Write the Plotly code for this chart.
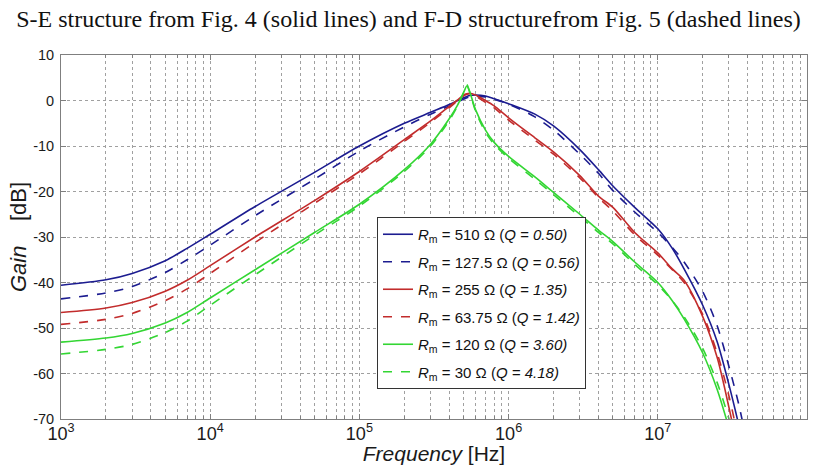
import plotly.graph_objects as go

# Frequency points (Hz)
FREQ = [1e3, 2e3, 3e3, 5e3, 7e3, 1e4, 2e4, 5e4, 1e5, 2e5, 3e5, 4e5, 4.5e5, 5e5, 5.25e5,
        5.5e5, 6e5, 7e5, 8e5, 1e6, 1.5e6, 2e6, 3e6, 4e6, 5e6, 7e6, 1e7, 1.25e7, 1.5e7,
        2e7, 2.5e7, 3e7, 3.5e7, 4e7]

# Gain (dB)
BLUE_SOLID = [-40.6, -39.4, -38.0, -35.2, -32.5, -29.4, -23.3, -15.8, -10.0, -5.0, -2.6, -0.9, -0.1,
              0.6, 0.9, 1.1, 1.2, 1.0, 0.4, -0.7, -3.0, -5.6, -10.8, -15.2, -18.8, -23.5, -28.2,
              -32.5, -37.0, -45.0, -53.0, -62.5, -71.5, -80.0]
BLUE_DASH = [-43.6, -42.3, -40.9, -37.8, -35.0, -31.8, -25.3, -17.3, -11.1, -5.8, -3.0, -1.2, -0.4,
             0.3, 0.6, 0.8, 0.9, 0.8, 0.3, -0.8, -3.6, -6.5, -11.8, -16.0, -19.8, -24.5, -29.0,
             -32.3, -35.5, -42.0, -49.5, -58.5, -67.0, -76.0]
RED_SOLID = [-46.6, -45.6, -44.4, -41.9, -39.5, -36.3, -30.0, -22.0, -15.6, -8.6, -4.5, -1.3, 0.0,
             1.2, 1.5, 1.6, 1.2, 0.0, -1.2, -3.8, -8.2, -11.3, -16.5, -21.0, -23.5, -29.0, -33.5,
             -37.0, -39.5, -47.5, -56.5, -67.5, -78.0, -88.0]
RED_DASH = [-49.2, -48.1, -46.8, -44.0, -41.4, -38.0, -31.2, -22.6, -16.1, -9.0, -4.8, -1.6, -0.2,
            1.0, 1.4, 1.5, 1.0, -0.4, -1.6, -4.3, -8.7, -11.8, -17.0, -21.3, -24.3, -29.5, -34.0,
            -37.2, -40.0, -47.0, -55.5, -65.0, -75.0, -85.0]
GREEN_SOLID = [-53.1, -52.2, -51.2, -48.9, -46.6, -43.4, -37.2, -29.0, -22.8, -15.2, -9.6, -4.0, -1.3,
               1.8, 3.2, 1.8, -2.0, -6.5, -9.2, -12.3, -16.8, -20.2, -25.0, -28.5, -31.0, -35.5,
               -40.0, -44.0, -48.0, -55.5, -63.5, -72.0, -80.0, -88.0]
GREEN_DASH = [-55.7, -54.7, -53.6, -51.0, -48.5, -45.0, -38.3, -29.6, -23.2, -15.6, -10.0, -4.4, -1.5,
              1.8, 3.5, 1.8, -2.3, -7.0, -9.6, -12.7, -17.3, -20.7, -25.5, -29.0, -31.5, -36.0,
              -40.5, -44.0, -47.5, -54.5, -62.0, -70.0, -78.0, -86.0]

SERIES_NAMES = [
    "<i>R</i><sub>m</sub> = 510 Ω (<i>Q = 0.50)</i>",
    "<i>R</i><sub>m</sub> = 127.5 Ω (<i>Q = 0.56)</i>",
    "<i>R</i><sub>m</sub> = 255 Ω (<i>Q = 1.35)</i>",
    "<i>R</i><sub>m</sub> = 63.75 Ω (<i>Q = 1.42)</i>",
    "<i>R</i><sub>m</sub> = 120 Ω (<i>Q = 3.60)</i>",
    "<i>R</i><sub>m</sub> = 30 Ω (<i>Q = 4.18)</i>",
]
SERIES_DATA = [BLUE_SOLID, BLUE_DASH, RED_SOLID, RED_DASH, GREEN_SOLID, GREEN_DASH]
SERIES_COLORS = ["#1c1c90", "#1c1c90", "#c22c2c", "#c22c2c", "#33d633", "#33d633"]
SERIES_DASH = ["solid", "dash", "solid", "dash", "solid", "dash"]

Y_TICKS = [10, 0, -10, -20, -30, -40, -50, -60, -70]
Y_TICKTEXT = ["10", "0", "-10", "-20", "-30", "-40", "-50", "-60", "-70"]

fig = go.Figure()
for i, (name, ys, col, dash) in enumerate(zip(SERIES_NAMES, SERIES_DATA, SERIES_COLORS, SERIES_DASH)):
    fig.add_trace(go.Scatter(
        x=FREQ, y=ys, mode="lines", name=name, legendgroup=f"g{i}",
        line=dict(color=col, width=1.6, dash=dash, shape="spline", smoothing=0.8),
    ))

axis_col = "#7f7f7f"
grid_col = "#a0a0a0"

fig.update_layout(
    width=817, height=465,
    margin=dict(l=61, r=10, t=55, b=46),
    paper_bgcolor="white", plot_bgcolor="white",
    font=dict(family="Liberation Sans, Arial", size=14, color="#1a1a1a"),
    title=dict(
        text="S-E structure from Fig. 4 (solid lines) and F-D structurefrom Fig. 5 (dashed lines)",
        x=0.5, xanchor="center", y=1 - 19 / 465, yanchor="middle",
        font=dict(family="Liberation Serif, Times New Roman", size=24, color="#111"),
    ),
    legend=dict(
        x=(377 - 61) / 746, y=(419 - 217) / 364, xanchor="left", yanchor="top",
        bgcolor="white", bordercolor="#333", borderwidth=1,
        font=dict(family="Liberation Sans, Arial", size=15, color="#111"),
        itemwidth=30, tracegroupgap=5,
    ),
    showlegend=True,
)

fig.update_xaxes(
    type="log", range=[3, 8], dtick=1, exponentformat="power",
    showline=True, linecolor=axis_col, linewidth=1, mirror="ticks",
    ticks="inside", ticklen=5, tickcolor=axis_col,
    showgrid=True, gridcolor=grid_col, griddash="dot", gridwidth=1,
    zeroline=False, automargin=False,
    tickfont=dict(size=14.5), ticklabelstandoff=-1,
    minor=dict(dtick="D1", ticks="inside", ticklen=3, tickcolor=axis_col,
               showgrid=True, gridcolor=grid_col, griddash="dot", gridwidth=1),
    title=dict(text="<i>Frequency</i> [Hz]", font=dict(size=21), standoff=24),
)
fig.update_yaxes(
    range=[-70, 10], tickvals=Y_TICKS, ticktext=Y_TICKTEXT,
    showline=True, linecolor=axis_col, linewidth=1, mirror="ticks",
    ticks="inside", ticklen=5, tickcolor=axis_col,
    showgrid=True, gridcolor=grid_col, griddash="dot", gridwidth=1,
    zeroline=False, automargin=False,
    tickfont=dict(size=14.5), ticklabelstandoff=3,
    title=dict(text="<i>Gain</i>\u00a0\u00a0\u00a0 [dB]", font=dict(size=22), standoff=0),
)

fig.write_html("out.html")
